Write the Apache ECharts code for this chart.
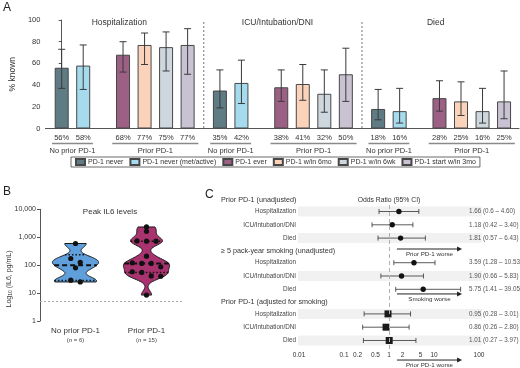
<!DOCTYPE html>
<html>
<head>
<meta charset="utf-8">
<script src="https://cdn.jsdelivr.net/npm/echarts@6/dist/echarts.min.js"></script>
<style>html,body{margin:0;padding:0;background:#fff}#chart{width:520px;height:368px}</style>
</head>
<body>
<div id="chart"></div>
<script>
// ---------- Panel A: % known by outcome and PD-1 cohort ----------
const outcomes = ['Hospitalization', 'ICU/Intubation/DNI', 'Died'];
const cohorts = ['PD-1 never', 'PD-1 never (met/active)', 'PD-1 ever', 'PD-1 w/in 6mo', 'PD-1 w/in 6wk', 'PD-1 start w/in 3mo'];
const cohortColors = ['#5f7b83', '#a6dbee', '#9b6083', '#fbd3bb', '#cdd7dd', '#c9c2d2'];
const hospPct = [56, 58, 68, 77, 75, 77];
const icuPct = [35, 42, 38, 41, 32, 50];
const diedPct = [18, 16, 28, 25, 16, 25];
const hospLo = [37, 36, 52, 59, 53, 50];
const hospHi = [73, 77, 80, 88, 89, 92];
const icuLo = [19, 23, 25, 26, 15, 25];
const icuHi = [54, 63, 54, 59, 54, 74];
const diedLo = [8, 5, 16, 12, 5, 9];
const diedHi = [36, 37, 44, 43, 37, 53];
const groupLabels = ['No prior PD-1', 'Prior PD-1'];

// ---------- Panel B: peak IL6 (pg/mL) ----------
const il6Groups = ['No prior PD-1', 'Prior PD-1'];
const il6NoPrior = [596, 173, 125, 80, 29, 25];
const il6Prior = [2330, 1630, 740, 720, 720, 210, 121, 115, 115, 87, 58, 55, 41, 40, 8.5];
const il6Threshold = 5;

// ---------- Panel C: odds ratios ----------
const forestSections = ['Prior PD-1 (unadjusted)', '\u2265 5 pack-year smoking (unadjusted)', 'Prior PD-1 (adjusted for smoking)'];
const forestRows = ['Hospitalization', 'ICU/Intubation/DNI', 'Died'];
const oddsRatio = [1.66, 1.18, 1.81, 3.59, 1.90, 5.75, 0.95, 0.86, 1.01];
const orLow = [0.6, 0.42, 0.57, 1.28, 0.66, 1.41, 0.28, 0.26, 0.27];
const orHigh = [4.60, 3.40, 6.43, 10.53, 5.83, 39.05, 3.01, 2.80, 3.97];
const orText = ['1.66 (0.6 \u2013 4.60)', '1.18 (0.42 \u2013 3.40)', '1.81 (0.57 \u2013 6.43)',
  '3.59 (1.28 \u2013 10.53)', '1.90 (0.66 \u2013 5.83)', '5.75 (1.41 \u2013 39.05)',
  '0.95 (0.28 \u2013 3.01)', '0.86 (0.26 \u2013 2.80)', '1.01 (0.27 \u2013 3.97)'];
const orTicks = [0.01, 0.1, 0.2, 0.5, 1, 2, 5, 10, 100];
const arrowLabels = ['Prior PD-1 worse', 'Smoking worse', 'Prior PD-1 worse'];

// ---------- layout ----------
const FONT = "'Liberation Sans', Arial, sans-serif";
const INNER_GAP = 0.85;      // extra slot between "No prior" and "Prior" bars
const GROUP_STRIDE = 7.35;   // slots per outcome block
const barPos = (g, i) => g * GROUP_STRIDE + i + (i >= 2 ? INNER_GAP : 0);
const SECTION_STRIDE = 3.85;
const rowPos = i => Math.floor(i / 3) * SECTION_STRIDE + (i % 3);
const headerPos = g => g * SECTION_STRIDE - 0.86;
const arrowPos = [2.82, 6.2, 11.17];
const ARROW_FROM = Math.log10(1.5), ARROW_TO = Math.log10(42);

const pctByOutcome = [hospPct, icuPct, diedPct];
const loByOutcome = [hospLo, icuLo, diedLo];
const hiByOutcome = [hospHi, icuHi, diedHi];
const il6Data = [il6NoPrior, il6Prior];
const violinColors = ['#5f9fdc', '#a8336f'];

const chart = echarts.init(document.getElementById('chart'));

// ---- panel A series ----
const barSeries = cohorts.map((name, i) => ({
  name, type: 'bar', xAxisIndex: 0, yAxisIndex: 0,
  barWidth: 14, barGap: '-100%',
  itemStyle: { color: cohortColors[i], borderColor: '#474747', borderWidth: 1 },
  data: outcomes.map((o, g) => [barPos(g, i), pctByOutcome[g][i]])
}));

const errData = [], pctData = [];
outcomes.forEach((o, g) => cohorts.forEach((c, i) => {
  errData.push([barPos(g, i), loByOutcome[g][i], hiByOutcome[g][i]]);
  pctData.push([barPos(g, i), pctByOutcome[g][i]]);
}));
const segData = [];
outcomes.forEach((o, g) => {
  segData.push([barPos(g, 0) - 0.45, barPos(g, 1) + 0.45, 0]);
  segData.push([barPos(g, 2) - 0.5, barPos(g, 5) + 0.5, 1]);
});

const errSeries = {
  type: 'custom', xAxisIndex: 0, yAxisIndex: 0, clip: false, z: 5,
  data: errData,
  renderItem: (params, api) => {
    const t = api.coord([api.value(0), api.value(2)]);
    const b = api.coord([api.value(0), api.value(1)]);
    const w = 3.5, st = { stroke: '#3a3a3a', lineWidth: 1 };
    return { type: 'group', children: [
      { type: 'line', shape: { x1: t[0], y1: t[1], x2: b[0], y2: b[1] }, style: st },
      { type: 'line', shape: { x1: t[0] - w, y1: t[1], x2: t[0] + w, y2: t[1] }, style: st },
      { type: 'line', shape: { x1: b[0] - w, y1: b[1], x2: b[0] + w, y2: b[1] }, style: st }
    ] };
  }
};

const pctSeries = {
  type: 'custom', xAxisIndex: 0, yAxisIndex: 0, clip: false,
  data: pctData,
  renderItem: (params, api) => {
    const p = api.coord([api.value(0), 0]);
    return { type: 'text', x: p[0], y: p[1] + 9,
      style: { text: api.value(1) + '%', fontSize: 7.5, fontFamily: FONT, fill: '#333', align: 'center', verticalAlign: 'middle' } };
  }
};

const segSeries = {
  type: 'custom', xAxisIndex: 0, yAxisIndex: 0, clip: false,
  data: segData,
  renderItem: (params, api) => {
    const a = api.coord([api.value(0), 0]);
    const b = api.coord([api.value(1), 0]);
    return { type: 'group', children: [
      { type: 'line', shape: { x1: a[0], y1: a[1] + 15, x2: b[0], y2: b[1] + 15 }, style: { stroke: '#8a8a8a', lineWidth: 1.5 } },
      { type: 'text', x: (a[0] + b[0]) / 2, y: a[1] + 22,
        style: { text: groupLabels[api.value(2)], fontSize: 7.5, fontFamily: FONT, fill: '#333', align: 'center', verticalAlign: 'middle' } }
    ] };
  }
};

const outcomeSeries = {
  type: 'custom', xAxisIndex: 0, yAxisIndex: 0, clip: false,
  data: outcomes.map((o, g) => [g]),
  renderItem: (params, api) => {
    const g = params.dataIndex;
    const mid = (barPos(g, 0) + barPos(g, 5)) / 2 - 0.25;
    const t = api.coord([mid, 100]);
    const kids = [{ type: 'text', x: t[0], y: t[1] + 2.5,
      style: { text: outcomes[g], fontSize: 8.5, fontFamily: FONT, fill: '#333', align: 'center', verticalAlign: 'middle' } }];
    if (g < outcomes.length - 1) {
      const sep = (barPos(g, 5) + barPos(g + 1, 0)) / 2;
      const s1 = api.coord([sep, 100]), s2 = api.coord([sep, 0]);
      kids.push({ type: 'line', shape: { x1: s1[0], y1: s1[1] + 2, x2: s2[0], y2: s2[1] },
        style: { stroke: '#777', lineWidth: 1, lineDash: [2, 2] } });
    }
    return { type: 'group', children: kids };
  }
};

// ---- panel B series ----
const BW = 0.16;
const kde = (vals, x) => vals.reduce((s, v) => s + Math.exp(-0.5 * ((x - v) / BW) ** 2), 0);
function quantile(sorted, p) {
  const n = sorted.length;
  let pos = p * (n + 1) - 1;
  pos = Math.max(0, Math.min(n - 1, pos));
  const lo = Math.floor(pos), hi = Math.min(n - 1, lo + 1);
  return sorted[lo] + (sorted[hi] - sorted[lo]) * (pos - lo);
}

const violinSeries = {
  type: 'custom', xAxisIndex: 1, yAxisIndex: 1, clip: false, z: 2,
  data: il6Groups.map((g, k) => [k, 100]),
  markLine: {
    silent: true, symbol: 'none', label: { show: false },
    lineStyle: { type: [2, 2], color: '#aaa', width: 1 },
    data: [{ yAxis: il6Threshold }]
  },
  renderItem: (params, api) => {
    const k = params.dataIndex;
    const logs = il6Data[k].map(Math.log10).sort((a, b) => a - b);
    const cx = api.coord([k, 1])[0];
    const band = Math.abs(api.coord([1, 1])[0] - api.coord([0, 1])[0]);
    const maxHalf = band * 0.325;
    const lo = logs[0], hi = logs[logs.length - 1];
    const N = 80, samples = [];
    let maxD = 0;
    for (let j = 0; j <= N; j++) {
      const v = lo + (hi - lo) * j / N, d = kde(logs, v);
      samples.push([v, d]); if (d > maxD) maxD = d;
    }
    const yOf = v => api.coord([k, Math.pow(10, v)])[1];
    const half = v => kde(logs, v) / maxD * maxHalf;
    const pts = samples.map(([v, d]) => [cx - d / maxD * maxHalf, yOf(v)])
      .concat(samples.slice().reverse().map(([v, d]) => [cx + d / maxD * maxHalf, yOf(v)]));
    const qLine = (v, dash, w) => ({ type: 'line',
      shape: { x1: cx - half(v), y1: yOf(v), x2: cx + half(v), y2: yOf(v) },
      style: { stroke: '#111', lineWidth: w, lineDash: dash } });
    return { type: 'group', children: [
      { type: 'polygon', shape: { points: pts }, style: { fill: violinColors[k], stroke: '#1a1a1a', lineWidth: 1 } },
      qLine(quantile(logs, 0.25), [1.5, 2], 1.5),
      qLine(quantile(logs, 0.75), [1.5, 2], 1.5),
      qLine(quantile(logs, 0.5), [5, 3], 2)
    ] };
  }
};

const ROW_TOL = 4.1, DOT_STEP = 9.5;
const dotSeries = {
  type: 'custom', xAxisIndex: 1, yAxisIndex: 1, clip: false, z: 4,
  data: il6Groups.map((g, k) => [k, 100]),
  renderItem: (params, api) => {
    const k = params.dataIndex;
    const cx = api.coord([k, 1])[0];
    const ys = il6Data[k].map(v => api.coord([k, v])[1]).sort((a, b) => a - b);
    const rows = [];
    let cur = [ys[0]];
    for (let j = 1; j < ys.length; j++) {
      if (ys[j] - ys[j - 1] <= ROW_TOL) cur.push(ys[j]); else { rows.push(cur); cur = [ys[j]]; }
    }
    rows.push(cur);
    const kids = [];
    rows.forEach(row => row.forEach((y, j) => kids.push({ type: 'circle',
      shape: { cx: cx + (j - (row.length - 1) / 2) * DOT_STEP, cy: y, r: 2.6 }, style: { fill: '#111' } })));
    return { type: 'group', children: kids };
  }
};

// ---- panel C series ----
const bandSeries = {
  type: 'custom', xAxisIndex: 2, yAxisIndex: 2, clip: false, z: 1,
  data: oddsRatio.map((v, i) => [0, rowPos(i)]).filter((d, i) => i % 2 === 0),
  renderItem: (params, api) => {
    const cs = params.coordSys;
    const y = api.coord([0, api.value(1)])[1];
    return { type: 'rect', shape: { x: cs.x - 1, y: y - 5, width: cs.width + 4, height: 10 }, style: { fill: '#f1f1f1' } };
  }
};

const forestSeries = {
  type: 'custom', xAxisIndex: 2, yAxisIndex: 2, clip: false, z: 4,
  encode: { x: 0, y: 1 },
  data: oddsRatio.map((v, i) => [Math.log10(v), rowPos(i), Math.log10(orLow[i]), Math.log10(orHigh[i])]),
  markLine: {
    silent: true, symbol: 'none', label: { show: false },
    lineStyle: { type: [4, 3], color: '#b0b0b0', width: 1 },
    data: [{ xAxis: 0 }]
  },
  renderItem: (params, api) => {
    const i = params.dataIndex, cs = params.coordSys;
    const c = api.coord([api.value(0), api.value(1)]);
    const l = api.coord([api.value(2), api.value(1)]);
    const h = api.coord([api.value(3), api.value(1)]);
    const st = { stroke: '#333', lineWidth: 0.8 };
    const square = Math.floor(i / 3) === 2;
    return { type: 'group', children: [
      { type: 'text', x: cs.x - 3, y: c[1], style: { text: forestRows[i % 3], fontSize: 6.3, fontFamily: FONT, fill: '#444', align: 'right', verticalAlign: 'middle' } },
      { type: 'line', shape: { x1: l[0], y1: c[1], x2: h[0], y2: c[1] }, style: st },
      { type: 'line', shape: { x1: l[0], y1: c[1] - 2.5, x2: l[0], y2: c[1] + 2.5 }, style: st },
      { type: 'line', shape: { x1: h[0], y1: c[1] - 2.5, x2: h[0], y2: c[1] + 2.5 }, style: st },
      square
        ? { type: 'rect', shape: { x: c[0] - 3.5, y: c[1] - 3.5, width: 7, height: 7 }, style: { fill: '#1a1a1a' } }
        : { type: 'circle', shape: { cx: c[0], cy: c[1], r: 2.7 }, style: { fill: '#111' } },
      { type: 'text', x: cs.x + cs.width - 10, y: c[1], style: { text: orText[i], fontSize: 6.3, fontFamily: FONT, fill: '#555', align: 'left', verticalAlign: 'middle' } }
    ] };
  }
};

const headerSeries = {
  type: 'custom', xAxisIndex: 2, yAxisIndex: 2, clip: false,
  data: forestSections.map((s, g) => [0, headerPos(g)]),
  renderItem: (params, api) => {
    const cs = params.coordSys;
    const y = api.coord([0, api.value(1)])[1];
    return { type: 'text', x: cs.x - 78, y,
      style: { text: forestSections[params.dataIndex], fontSize: 7.2, fontFamily: FONT, fill: '#333', align: 'left', verticalAlign: 'middle' } };
  }
};

const arrowSeries = {
  type: 'custom', xAxisIndex: 2, yAxisIndex: 2, clip: false,
  data: arrowLabels.map((a, k) => [ARROW_FROM, arrowPos[k], ARROW_TO]),
  renderItem: (params, api) => {
    const a = api.coord([api.value(0), api.value(1)]);
    const b = api.coord([api.value(2), api.value(1)]);
    return { type: 'group', children: [
      { type: 'line', shape: { x1: a[0], y1: a[1], x2: b[0] - 4, y2: b[1] }, style: { stroke: '#222', lineWidth: 1 } },
      { type: 'polygon', shape: { points: [[b[0], b[1]], [b[0] - 5, b[1] - 2.5], [b[0] - 5, b[1] + 2.5]] }, style: { fill: '#222' } },
      { type: 'text', x: (a[0] + b[0]) / 2, y: a[1] + 5,
        style: { text: arrowLabels[params.dataIndex], fontSize: 6.2, fontFamily: FONT, fill: '#333', align: 'center', verticalAlign: 'middle' } }
    ] };
  }
};

const txt = (extra) => Object.assign({ fontFamily: FONT, fill: '#222' }, extra);

const option = {
  animation: false,
  textStyle: { fontFamily: FONT, color: '#333' },
  legend: {
    data: cohorts, selectedMode: false,
    left: 71, top: 157, itemWidth: 9, itemHeight: 6, itemGap: 6, icon: 'rect',
    padding: [1, 4], borderColor: '#444', borderWidth: 0.8,
    textStyle: { fontSize: 7, color: '#333', padding: [0, 0, 0, -2] }
  },
  grid: [
    { left: 24, top: 20, width: 495, height: 108.5 },
    { left: 40, top: 209.3, width: 142, height: 111.7 },
    { left: 299, top: 205, width: 180, height: 144 }
  ],
  xAxis: [
    { gridIndex: 0, type: 'value', min: -0.756, max: 21.244,
      axisLine: { show: true, lineStyle: { color: '#555' } }, axisTick: { show: false }, axisLabel: { show: false }, splitLine: { show: false } },
    { gridIndex: 1, type: 'category', data: il6Groups,
      axisLine: { show: false }, axisTick: { show: false },
      axisLabel: { interval: 0, margin: 5,
        formatter: (v, i) => `{a|${v}}\n{b|(}{i|n}{b| = ${il6Data[i].length})}`,
        rich: { a: { fontSize: 8, color: '#333', lineHeight: 10 },
                b: { fontSize: 6, color: '#444', lineHeight: 9 },
                i: { fontSize: 6, color: '#444', lineHeight: 9, fontStyle: 'italic' } } } },
    { gridIndex: 2, type: 'value', min: -2, max: 2,
      axisLine: { show: true, lineStyle: { color: '#555' } },
      axisTick: { show: true, length: 3, customValues: orTicks.map(Math.log10), lineStyle: { color: '#555' } },
      axisLabel: { fontSize: 6.5, color: '#333', margin: 3, customValues: orTicks.map(Math.log10),
        formatter: v => String(+Math.pow(10, v).toPrecision(3)) },
      splitLine: { show: false } }
  ],
  yAxis: [
    { gridIndex: 0, type: 'value', min: 0, max: 100, interval: 20,
      name: '% known', nameLocation: 'middle', nameGap: 18.5, nameTextStyle: { fontSize: 8.5, color: '#333' },
      axisLine: { show: true, lineStyle: { color: '#555' } }, axisTick: { show: true, length: 3 },
      axisLabel: { fontSize: 7.5, color: '#333', margin: 5 }, splitLine: { show: false } },
    { gridIndex: 1, type: 'log', logBase: 10, min: 1, max: 10000,
      axisLine: { show: true, lineStyle: { color: '#555' } }, axisTick: { show: true, length: 3 },
      axisLabel: { fontSize: 7, color: '#333', margin: 4, formatter: v => Number(v).toLocaleString('en-US') },
      splitLine: { show: false }, minorTick: { show: false } },
    { gridIndex: 2, type: 'value', inverse: true, min: -0.49, max: 10.34, show: false }
  ],
  series: [
    ...barSeries, errSeries, pctSeries, segSeries, outcomeSeries,
    violinSeries, dotSeries,
    bandSeries, forestSeries, headerSeries, arrowSeries
  ],
  graphic: [
    { type: 'text', x: 3, y: 2, style: txt({ text: 'A', font: `bold 10px ${FONT}` }) },
    { type: 'text', x: 3, y: 186, style: txt({ text: 'B', font: `bold 10px ${FONT}` }) },
    { type: 'text', x: 205, y: 189, style: txt({ text: 'C', font: `bold 10px ${FONT}` }) },
    { type: 'text', x: 110, y: 212, style: txt({ text: 'Peak IL6 levels', fontSize: 8, fill: '#333', align: 'center', verticalAlign: 'middle' }) },
    { type: 'text', x: 389, y: 200, style: txt({ text: 'Odds Ratio (95% CI)', fontSize: 6.8, fill: '#333', align: 'center', verticalAlign: 'middle' }) },
    { type: 'text', x: 9, y: 279, rotation: Math.PI / 2,
      style: txt({ text: 'Log{s|10} (IL6, pg/mL)', fontSize: 7, fill: '#333', align: 'center', verticalAlign: 'middle',
        rich: { s: { fontSize: 5, fill: '#333', verticalAlign: 'bottom', padding: [3, 0, 0, 0] } } }) }
  ]
};

chart.setOption(option);
</script>
</body>
</html>
